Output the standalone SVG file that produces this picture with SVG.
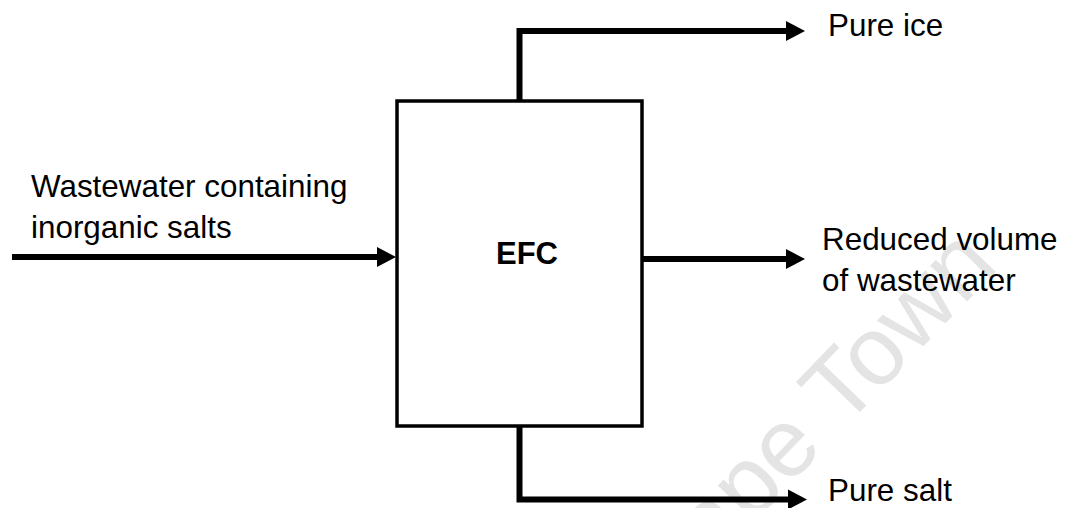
<svg xmlns="http://www.w3.org/2000/svg" width="1065" height="508" viewBox="0 0 1065 508">
  <defs>
    <style>
      .lbl { font-family: "Liberation Sans", Arial, sans-serif; font-size: 31.4px; fill: #000; }
      .title { font-family: "Liberation Sans", Arial, sans-serif; font-size: 31px; font-weight: bold; fill: #000; }
      .flow { fill: none; stroke: #000; stroke-width: 6; stroke-linejoin: miter; stroke-linecap: butt; }
      .unit { fill: #fff; stroke: #000; stroke-width: 3.5; }
      .wm { font-family: "Liberation Sans", Arial, sans-serif; font-size: 97px; fill: #e4e4e4; }
    </style>
    <marker id="arrowhead" markerUnits="userSpaceOnUse" markerWidth="20" markerHeight="20" refX="0" refY="10" orient="auto" overflow="visible">
      <path d="M0,0 L19,10 L0,20 Z" fill="#000"/>
    </marker>
  </defs>

  <rect width="1065" height="508" fill="#fff"/>

  <!-- background watermark -->
  <text class="wm" x="664" y="615" transform="rotate(-46 664 615)">Cape Town</text>

  <!-- process unit -->
  <g id="efc">
    <rect class="unit" x="397" y="101" width="245" height="325"/>
    <text class="title" x="496" y="264">EFC</text>
  </g>

  <!-- stream labels -->
  <g id="feed">
    <text class="lbl" x="31" y="197">Wastewater containing</text>
    <text class="lbl" x="31" y="238">inorganic salts</text>
  </g>
  <g id="ice">
    <text class="lbl" x="828" y="36">Pure ice</text>
  </g>
  <g id="concentrate">
    <text class="lbl" x="822" y="250">Reduced volume</text>
    <text class="lbl" x="822" y="291">of wastewater</text>
  </g>
  <g id="salt">
    <text class="lbl" x="828" y="501">Pure salt</text>
  </g>

  <!-- streams -->
  <g id="connectors">
    <path class="flow" d="M12,257 H377" marker-end="url(#arrowhead)"/>
    <path class="flow" d="M519.5,101 V31 H786" marker-end="url(#arrowhead)"/>
    <path class="flow" d="M642,259 H786" marker-end="url(#arrowhead)"/>
    <path class="flow" d="M519.5,426 V499.5 H788" marker-end="url(#arrowhead)"/>
  </g>
</svg>
